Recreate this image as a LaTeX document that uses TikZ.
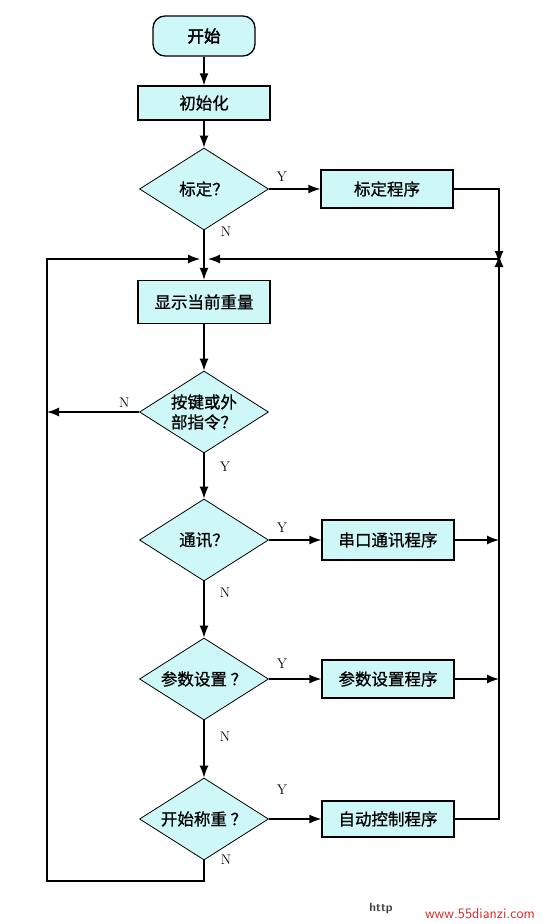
\documentclass[tikz,border=0pt]{standalone}
\usepackage{fontspec}
\newfontfamily\cjk{Noto Sans CJK SC}[FakeBold=0.8]
\newfontfamily\cjkbf{Noto Sans CJK SC}[FakeBold=2.5]
\usetikzlibrary{arrows.meta,shapes.geometric,positioning}
\definecolor{boxcyan}{RGB}{206,247,248}
\definecolor{wmred}{RGB}{215,40,40}
\begin{document}
\begin{tikzpicture}[x=1pt,y=-1pt,on grid,>={Latex[length=12pt,width=9pt]},
    line width=1.3pt,
    every node/.style={font=\cjk\fontsize{16.5}{20}\selectfont},
    term/.style={draw,fill=boxcyan,rounded corners=12pt,minimum width=102pt,minimum height=40pt,font=\cjkbf\fontsize{16.5}{20}\selectfont},
    proc/.style={draw,fill=boxcyan,minimum width=132pt,minimum height=38pt,inner sep=2pt},
    decide/.style={draw,fill=boxcyan,diamond,aspect=1.57,minimum width=129pt,minimum height=82pt,inner sep=0pt,line width=0.8pt,align=center},
    yn/.style={font=\rmfamily\fontsize{14}{16}\selectfont}]
			\useasboundingbox (0,0) rectangle (550,924);
			\node[term] (start) at (204,36) {开始};
			\node[proc,minimum height=34pt] (init) [below=67pt of start] {初始化};
			\node[decide] (calib) [below=86pt of init] {标定？};
			\node[proc] (calibprog) [right=183pt of calib] {标定程序};
			\node[proc,minimum height=43pt] (show) [below=113pt of calib] {显示当前重量};
			\node[decide] (key) [below=110pt of show] {按键或外\\部指令？};
			\node[decide] (comm) [below=128pt of key] {通讯？};
			\node[proc,minimum height=40pt] (commprog) [right=184pt of comm] {串口通讯程序};
			\node[decide] (param) [below=139pt of comm] {参数设置 ？};
			\node[proc] (paramprog) [right=184pt of param] {参数设置程序};
			\node[decide] (weigh) [below=140pt of param] {开始称重 ？};
			\node[proc,minimum height=36pt] (autoprog) [right=184pt of weigh] {自动控制程序};

			\coordinate (jn) at (204,259);
			\coordinate (rj) at (499,259);
			\coordinate (lft) at (47,259);
			\coordinate (bot) at (204,881);

			\path[->] (start) edge (init)
					  (init) edge (calib)
					  (calib) edge node [yn,pos=0.25,above=4pt] {Y} (calibprog)
					  (calib) edge node [yn,pos=0.02,right=13pt] {N} (show)
					  (show) edge (key)
					  (key) edge node [yn,pos=0.3,right=12pt] {Y} (comm)
					  (comm) edge node [yn,pos=0.25,above=4pt] {Y} (commprog)
					  (comm) edge node [yn,pos=0.2,right=12pt] {N} (param)
					  (param) edge node [yn,pos=0.25,above=7pt] {Y} (paramprog)
					  (param) edge node [yn,pos=0.28,right=12pt] {N} (weigh)
					  (weigh) edge node [yn,pos=0.25,above=21pt] {Y} (autoprog);

			\draw[->] (key.west) -- node [yn,pos=0.16,above=1pt] {N} (key.west -| lft);
			\draw[->] (calibprog.east) -| ([yshift=-4pt]rj);
			\draw[->] (autoprog.east) -| ([yshift=4pt]rj);
			\draw[->] (commprog.east) -- (commprog.east -| rj);
			\draw[->] (paramprog.east) -- (paramprog.east -| rj);
			\draw[->] (rj) -- ([xshift=4pt]jn);
			\draw[->] (weigh.south) node [yn,right=13pt,yshift=1pt] {N} -- (bot) -| (lft) -- ([xshift=-4pt]jn);

			\node[font=\sffamily\bfseries\fontsize{12}{13}\selectfont,text=darkgray] (wmhttp) at (381,908) {http};
			\node[font=\sffamily\fontsize{14.5}{16}\selectfont,text=wmred] (wmurl) at (480,914) {www.55dianzi.com};
\end{tikzpicture}
\end{document}
